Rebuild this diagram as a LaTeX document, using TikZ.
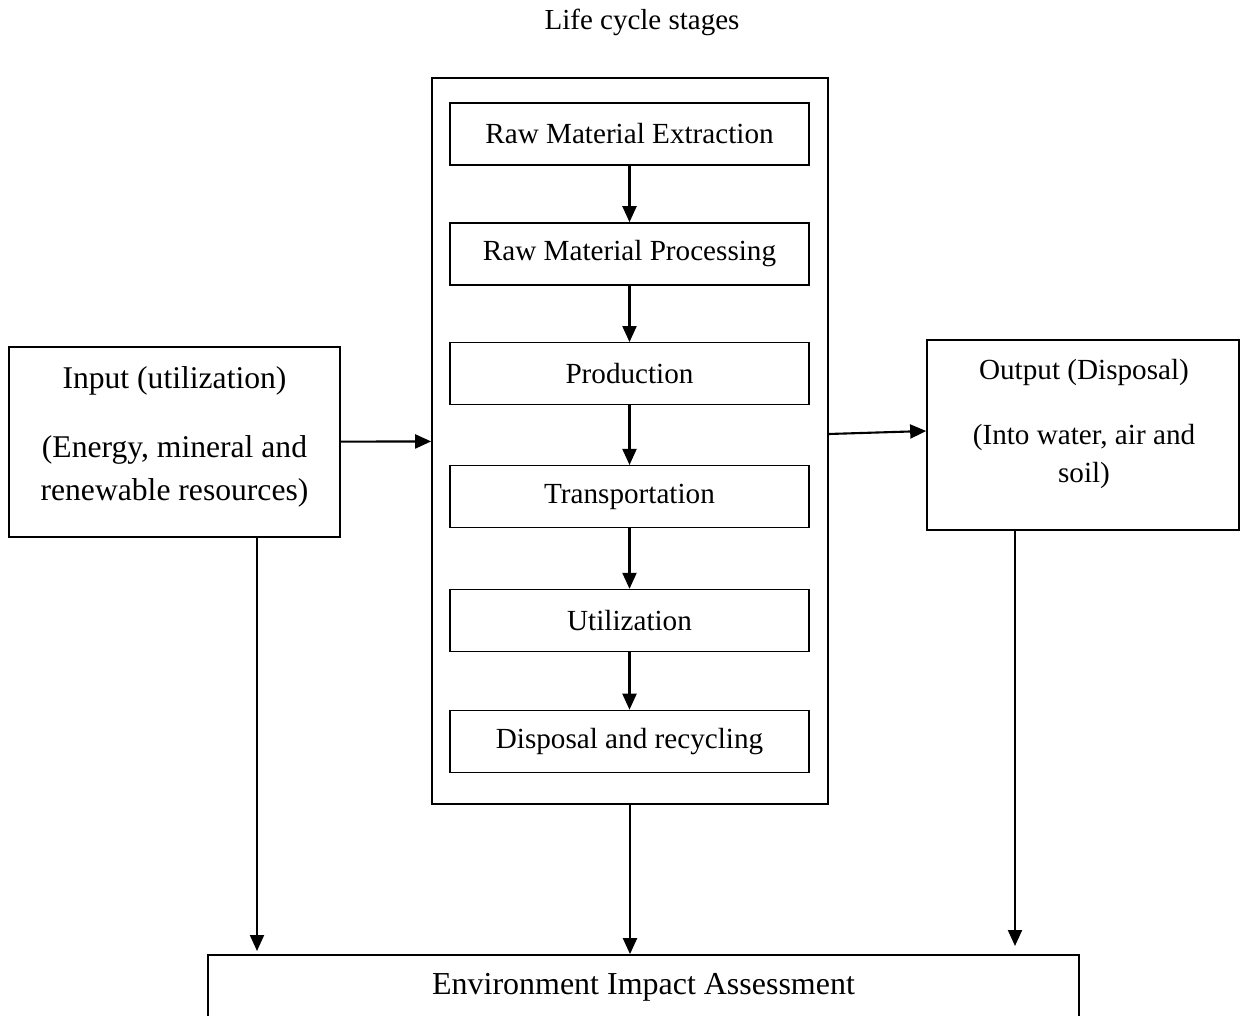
\documentclass[tikz,border=0pt]{standalone}
\usepackage{fontspec}
\setmainfont{Liberation Serif}
\usetikzlibrary{arrows.meta,positioning}

\begin{document}
\begin{tikzpicture}[x=0.02cm, y=-0.02cm,
    stage/.style={draw, line width=0.8pt, minimum width=7.18cm,
                  minimum height=1.24cm, inner sep=0pt,
                  font=\fontsize{16.6pt}{20pt}\selectfont},
    frame/.style={draw, line width=1pt, minimum width=7.92cm,
                  minimum height=14.52cm, inner sep=0pt},
    sidebox/.style={draw, line width=1pt, inner sep=0pt},
    sidetext/.style={align=center, inner sep=0pt},
    arrow/.style={-{Triangle[length=0.32cm, width=0.28cm]}, line width=1.2pt}
]
\useasboundingbox (0,0) rectangle (1241,1016);
\clip (0,0) rectangle (1241,1016);

\node[font=\fontsize{16.5pt}{20pt}\selectfont] (title) at (642,22)
     {Life cycle stages};

% life cycle stages
\node[frame] (lcs) at (630,441) {};
\node[stage] (rme) at (629.5,134) {Raw Material Extraction};
\node[stage, below=1.13cm of rme]  (rmp)   {Raw Material Processing};
\node[stage, below=1.13cm of rmp]  (prod)  {Production};
\node[stage, below=1.19cm of prod] (trans) {Transportation};
\node[stage, below=1.21cm of trans](util)  {Utilization};
\node[stage, below=1.15cm of util] (disp)  {Disposal and recycling};
\draw[arrow](rme)--(rmp); \draw[arrow](rmp)--(prod);
\draw[arrow](prod)--(trans); \draw[arrow](trans)--(util);
\draw[arrow](util)--(disp);

% input and output
\node[sidebox, minimum width=6.62cm, minimum height=3.8cm] (inp)
     at (174.5,442) {};
\node[sidetext, font=\fontsize{18pt}{24.5pt}\selectfont] (inptxt)
     at (174.5,437) {Input (utilization)\\[0.52cm]
     (Energy, mineral and\\renewable resources)};
\node[sidebox, minimum width=6.24cm, minimum height=3.8cm] (outp)
     at (1083,435) {};
\node[sidetext, font=\fontsize{16.6pt}{22pt}\selectfont] (outptxt)
     at (1084,424) {Output (Disposal)\\[0.52cm]
     (Into water, air and\\soil)};

% assessment
\node[draw, line width=1pt, minimum width=17.42cm, minimum height=1.28cm,
      inner sep=0pt, font=\fontsize{18.2pt}{22pt}\selectfont] (eia)
     at (643.5,987) {Environment Impact Assessment};

\coordinate (eiaL) at (257,951);
\coordinate (eiaR) at (1015,946);
\draw[arrow](inp)--(lcs);
\draw[arrow]([yshift=0.14cm]lcs.east)--([yshift=0.08cm]outp.west);
\draw[arrow](inp.south -| eiaL)--(eiaL);
\draw[arrow](lcs.south)--(lcs.south |- eia.north);
\draw[arrow](outp.south -| eiaR)--(eiaR);
\end{tikzpicture}
\end{document}
